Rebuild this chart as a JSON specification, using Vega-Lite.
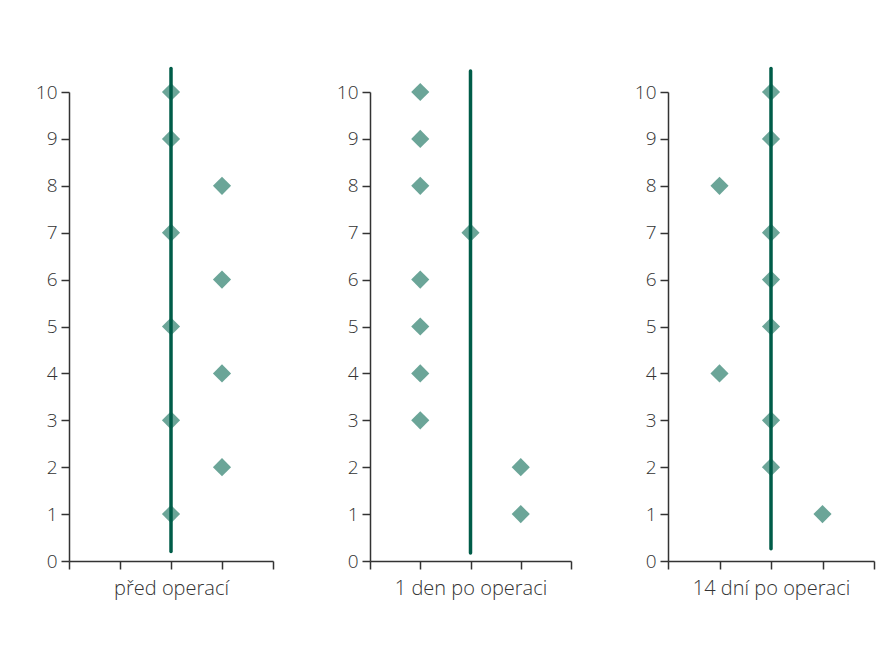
{
  "$schema": "https://vega.github.io/schema/vega-lite/v6.json",
  "padding": {"left": 35, "top": 66, "right": 5, "bottom": 5},
  "background": "white",
  "datasets": {
    "points": [
      {"panel": "před operací", "x": 0, "y": 10},
      {"panel": "před operací", "x": 0, "y": 9},
      {"panel": "před operací", "x": 0, "y": 7},
      {"panel": "před operací", "x": 0, "y": 5},
      {"panel": "před operací", "x": 0, "y": 3},
      {"panel": "před operací", "x": 0, "y": 1},
      {"panel": "před operací", "x": 1, "y": 8},
      {"panel": "před operací", "x": 1, "y": 6},
      {"panel": "před operací", "x": 1, "y": 4},
      {"panel": "před operací", "x": 1, "y": 2},
      {"panel": "1 den po operaci", "x": -1, "y": 10},
      {"panel": "1 den po operaci", "x": -1, "y": 9},
      {"panel": "1 den po operaci", "x": -1, "y": 8},
      {"panel": "1 den po operaci", "x": -1, "y": 6},
      {"panel": "1 den po operaci", "x": -1, "y": 5},
      {"panel": "1 den po operaci", "x": -1, "y": 4},
      {"panel": "1 den po operaci", "x": -1, "y": 3},
      {"panel": "1 den po operaci", "x": 0, "y": 7},
      {"panel": "1 den po operaci", "x": 1, "y": 2},
      {"panel": "1 den po operaci", "x": 1, "y": 1},
      {"panel": "14 dní po operaci", "x": -1, "y": 8},
      {"panel": "14 dní po operaci", "x": -1, "y": 4},
      {"panel": "14 dní po operaci", "x": 0, "y": 10},
      {"panel": "14 dní po operaci", "x": 0, "y": 9},
      {"panel": "14 dní po operaci", "x": 0, "y": 7},
      {"panel": "14 dní po operaci", "x": 0, "y": 6},
      {"panel": "14 dní po operaci", "x": 0, "y": 5},
      {"panel": "14 dní po operaci", "x": 0, "y": 3},
      {"panel": "14 dní po operaci", "x": 0, "y": 2},
      {"panel": "14 dní po operaci", "x": 1, "y": 1}
    ],
    "lines": [
      {"panel": "před operací", "x": 0, "y": 0.2, "y2": 10.5},
      {"panel": "1 den po operaci", "x": 0, "y": 0.17, "y2": 10.45},
      {"panel": "14 dní po operaci", "x": 0, "y": 0.26, "y2": 10.5}
    ]
  },
  "config": {
    "view": {"stroke": null},
    "font": "Open Sans",
    "axis": {
      "grid": false,
      "domainColor": "#333333",
      "tickColor": "#333333",
      "domainWidth": 1.5,
      "tickWidth": 1.5,
      "tickSize": 8,
      "labelFont": "Open Sans",
      "labelFontSize": 19,
      "labelFontWeight": 300,
      "labelColor": "#333333",
      "titleFont": "Open Sans",
      "titleFontSize": 20,
      "titleFontWeight": 300,
      "titleColor": "#333333"
    }
  },
  "bounds": "flush",
  "spacing": 97,
  "hconcat": [
    {
      "width": 204,
      "height": 469,
      "layer": [
        {
          "data": {"name": "points"},
          "transform": [{"filter": "datum.panel === 'před operací'"}],
          "mark": {"type": "point", "shape": "diamond", "filled": true, "size": 330, "color": "#6ba598", "opacity": 1},
          "encoding": {
            "x": {"field": "x", "type": "quantitative", "scale": {"domain": [-2, 2]}, "axis": {"values": [-2, -1, 0, 1, 2], "labels": false, "title": "před operací", "titlePadding": 9}},
            "y": {"field": "y", "type": "quantitative", "scale": {"domain": [0, 10]}, "axis": {"values": [0, 1, 2, 3, 4, 5, 6, 7, 8, 9, 10], "title": null, "labelPadding": 4}}
          }
        },
        {
          "data": {"name": "lines"},
          "transform": [{"filter": "datum.panel === 'před operací'"}],
          "mark": {"type": "rule", "color": "#005c48", "strokeWidth": 3.5, "strokeCap": "round", "clip": false},
          "encoding": {
            "x": {"field": "x", "type": "quantitative"},
            "y": {"field": "y", "type": "quantitative"},
            "y2": {"field": "y2"}
          }
        }
      ]
    },
    {
      "width": 201,
      "height": 469,
      "layer": [
        {
          "data": {"name": "points"},
          "transform": [{"filter": "datum.panel === '1 den po operaci'"}],
          "mark": {"type": "point", "shape": "diamond", "filled": true, "size": 330, "color": "#6ba598", "opacity": 1},
          "encoding": {
            "x": {"field": "x", "type": "quantitative", "scale": {"domain": [-2, 2]}, "axis": {"values": [-2, -1, 0, 1, 2], "labels": false, "title": "1 den po operaci", "titlePadding": 9}},
            "y": {"field": "y", "type": "quantitative", "scale": {"domain": [0, 10]}, "axis": {"values": [0, 1, 2, 3, 4, 5, 6, 7, 8, 9, 10], "title": null, "labelPadding": 4}}
          }
        },
        {
          "data": {"name": "lines"},
          "transform": [{"filter": "datum.panel === '1 den po operaci'"}],
          "mark": {"type": "rule", "color": "#005c48", "strokeWidth": 3.5, "strokeCap": "round", "clip": false},
          "encoding": {
            "x": {"field": "x", "type": "quantitative"},
            "y": {"field": "y", "type": "quantitative"},
            "y2": {"field": "y2"}
          }
        }
      ]
    },
    {
      "width": 206,
      "height": 469,
      "layer": [
        {
          "data": {"name": "points"},
          "transform": [{"filter": "datum.panel === '14 dní po operaci'"}],
          "mark": {"type": "point", "shape": "diamond", "filled": true, "size": 330, "color": "#6ba598", "opacity": 1},
          "encoding": {
            "x": {"field": "x", "type": "quantitative", "scale": {"domain": [-2, 2]}, "axis": {"values": [-2, -1, 0, 1, 2], "labels": false, "title": "14 dní po operaci", "titlePadding": 9}},
            "y": {"field": "y", "type": "quantitative", "scale": {"domain": [0, 10]}, "axis": {"values": [0, 1, 2, 3, 4, 5, 6, 7, 8, 9, 10], "title": null, "labelPadding": 4}}
          }
        },
        {
          "data": {"name": "lines"},
          "transform": [{"filter": "datum.panel === '14 dní po operaci'"}],
          "mark": {"type": "rule", "color": "#005c48", "strokeWidth": 3.5, "strokeCap": "round", "clip": false},
          "encoding": {
            "x": {"field": "x", "type": "quantitative"},
            "y": {"field": "y", "type": "quantitative"},
            "y2": {"field": "y2"}
          }
        }
      ]
    }
  ]
}
